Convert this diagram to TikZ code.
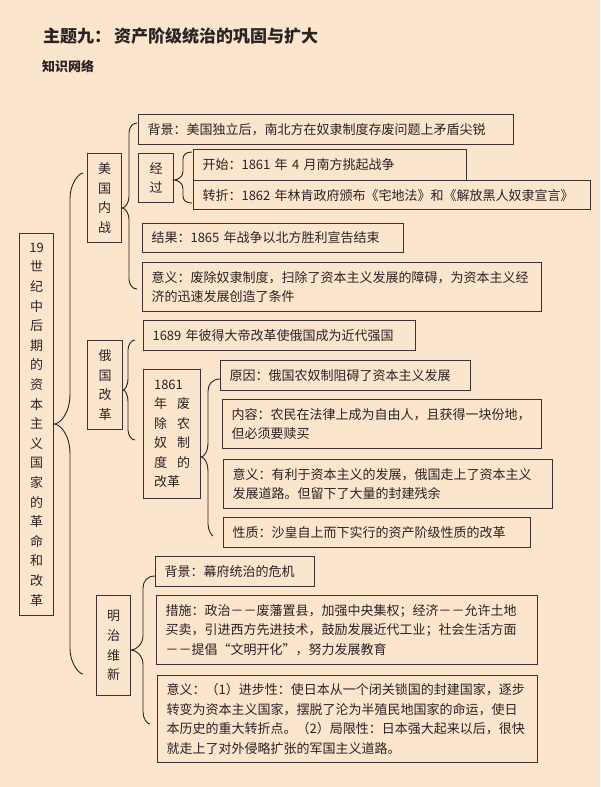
\documentclass[tikz,border=0pt]{standalone}
\usepackage{fontspec}
\setmainfont{Noto Sans CJK SC}
\usetikzlibrary{calc}

\definecolor{paper}{HTML}{FCE5CD}
\definecolor{ink}{HTML}{2B2224}
\definecolor{edge}{HTML}{3E3035}

\tikzset{
  item/.style={draw=edge, line width=1.1pt, fill=paper, anchor=north west, align=left,
    inner xsep=9pt, inner ysep=0pt, text=ink, font=\fontsize{13}{19.5}\selectfont},
  col/.style={draw=edge, line width=1.1pt, fill=paper, anchor=north west, align=center,
    inner sep=0pt, minimum width=34pt, text=ink, font=\fontsize{13}{19.6}\selectfont},
  brc/.style={draw=ink, line width=0.9pt}
}

% two characters spread over the width of a narrow box
\newcommand\spr[2]{\makebox[36pt]{#1\hfill#2}}

% curly brace: parent, tip y, line x, top end x, top y, bottom end x, bottom y, curl
\newcommand\wbrc[8]{%
  \draw[brc] (#4,#5) .. controls ({#3+0.35*#8},#5) and (#3,{#5+0.45*#8}) .. (#3,{#5+#8})
    -- (#3,{#2-1.2*#8}) .. controls (#3,{#2-0.45*#8}) and ($(#1.east|-0,#2)!0.4!(#3,#2)$) .. (#1.east|-0,#2)
    .. controls ($(#1.east|-0,#2)!0.4!(#3,#2)$) and (#3,{#2+0.45*#8}) .. (#3,{#2+1.2*#8})
    -- (#3,{#7-#8}) .. controls (#3,{#7-0.45*#8}) and ({#3+0.35*#8},#7) .. (#6,#7);}

\begin{document}
\begin{tikzpicture}[x=1pt,y=-1pt]
\fill[paper] (0,0) rectangle (600,787);
\useasboundingbox (0,0) rectangle (600,787);

% Title
\node[anchor=west, inner sep=0pt, text=ink, font=\fontsize{17}{20}\selectfont\bfseries] (title) at (43,36)
  {主题九：\hspace{3pt}资产阶级统治的巩固与扩大};
\node[anchor=west, inner sep=0pt, text=ink, font=\fontsize{13}{15}\selectfont\bfseries] (sub) at (42,66) {知识网络};

% Root
\node[col, minimum height=382pt] (root) at (19,233)
  {19\\世\\纪\\中\\后\\期\\的\\资\\本\\主\\义\\国\\家\\的\\革\\命\\和\\改\\革};

% American Civil War
\node[col, minimum height=89pt] (mg) at (87,153) {美\\国\\内\\战};
\node[item, text width=357pt, minimum height=30pt] (bj1) at (138,114) {背景：美国独立后，南北方在奴隶制度存废问题上矛盾尖锐};
\node[col, minimum width=35pt, minimum height=49pt] (jg) at (138,153) {经\\过};
\node[item, text width=255pt, minimum height=31pt] (ks) at (193,149) {开始：1861 年 4 月南方挑起战争};
\node[item, text width=379pt, minimum height=29pt] (zz) at (193,180) {转折：1862 年林肯政府颁布《宅地法》和《解放黑人奴隶宣言》};
\node[item, text width=243pt, minimum height=29pt] (jgo) at (142,223) {结果：1865 年战争以北方胜利宣告结束};
\node[item, text width=381pt, minimum height=49pt] (yy1) at (142,262)
  {意义：废除奴隶制度，扫除了资本主义发展的障碍，为资本主义经\\济的迅速发展创造了条件};

% Russian reform
\node[col, minimum width=35pt, minimum height=89pt] (eg) at (87,340) {俄\\国\\改\\革};
\node[item, text width=254pt, minimum height=30pt] (bd) at (143,320) {1689 年彼得大帝改革使俄国成为近代强国};
\node[item, text width=36pt, inner xsep=10.5pt, minimum height=129pt] (gg) at (143,369)
  {1861\\\spr{年}{废}\\\spr{除}{农}\\\spr{奴}{制}\\\spr{度}{的}\\改革};
\node[item, text width=232pt, minimum height=30pt] (yy) at (220,360) {原因：俄国农奴制阻碍了资本主义发展};
\node[item, text width=301pt, minimum height=49pt] (nr) at (222,399)
  {内容：农民在法律上成为自由人，且获得一块份地，\\但必须要赎买};
\node[item, text width=311pt, minimum height=49pt] (yy2) at (223,459)
  {意义：有利于资本主义的发展，俄国走上了资本主义\\发展道路。但留下了大量的封建残余};
\node[item, text width=289pt, minimum height=30pt] (xz) at (223,517) {性质：沙皇自上而下实行的资产阶级性质的改革};

% Meiji restoration
\node[col, minimum height=100pt] (mz) at (96,595) {明\\治\\维\\新};
\node[item, text width=141pt, minimum height=30pt] (bj3) at (155,556) {背景：幕府统治的危机};
\node[item, text width=363pt, minimum height=69pt] (cs) at (156,595)
  {措施：政治－－废藩置县，加强中央集权；经济－－允许土地\\买卖，引进西方先进技术，鼓励发展近代工业；社会生活方面\\－－提倡“文明开化”，努力发展教育};
\node[item, text width=362pt, minimum height=87pt] (yy3) at (157,675)
  {意义：（1）进步性：使日本从一个闭关锁国的封建国家，逐步\\转变为资本主义国家，摆脱了沦为半殖民地国家的命运，使日\\本历史的重大转折点。（2）局限性：日本强大起来以后，很快\\就走上了对外侵略扩张的军国主义道路。};

% Braces
\wbrc{root}{424}{70}{83}{173}{83}{674}{25}
\wbrc{mg}{208}{129}{137}{123}{137}{289}{10}
\wbrc{jg}{180}{183}{192}{152}{192}{203}{7}
\wbrc{eg}{390}{128}{135}{340}{135}{440}{10}
\wbrc{gg}{457}{208}{220}{379}{213}{536}{12}
\wbrc{mz}{650}{143}{155}{576}{150}{724}{12}
\end{tikzpicture}
\end{document}
